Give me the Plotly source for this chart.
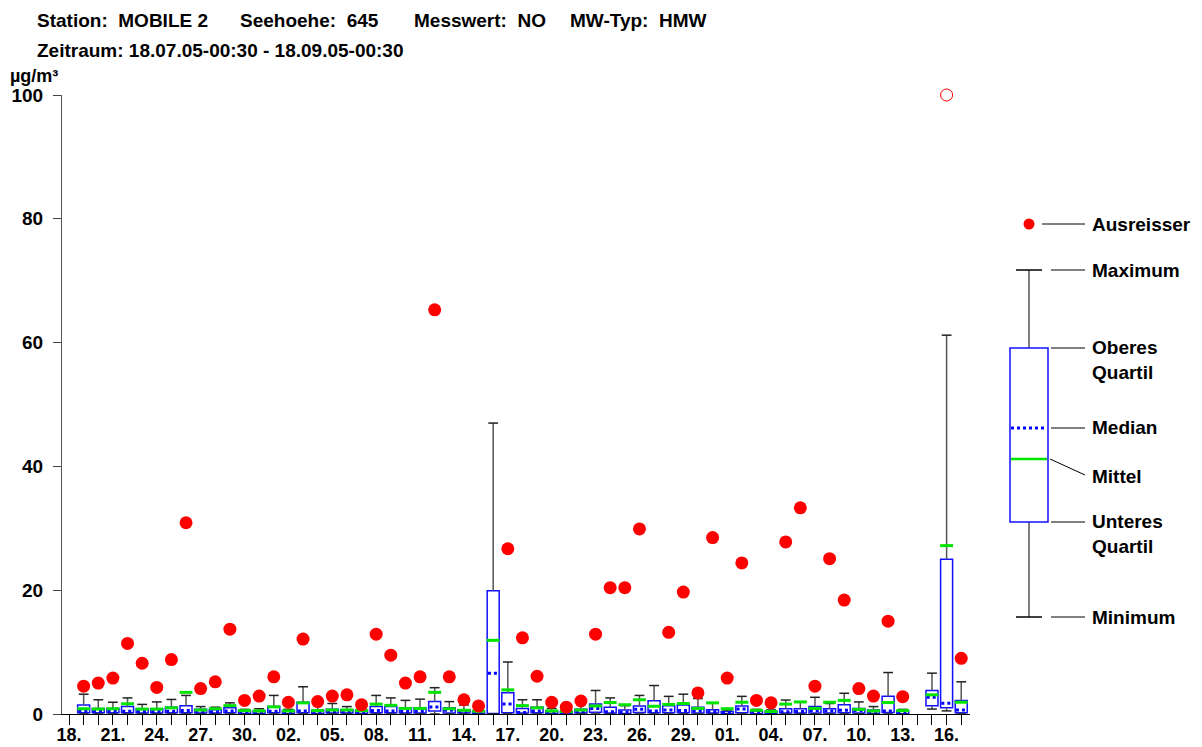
import plotly.graph_objects as go
import pandas as pd

# ---------------- data (µg/m³), one entry per day 18.07.05 ... 17.09.05 ----------------
days = pd.date_range("2005-07-18", "2005-09-17", freq="D")
day_labels = [d.strftime("%d.") for d in days]
N = None

q1 = [N, 0.2, 0.2, 0.2, 0.2, 0.15, 0.15, 0.2, 0.2, 0.15, 0.15, 0.2, 0.1, 0.1, 0.2, 0.1,
      0.2, 0.1, 0.15, 0.15, 0.1, 0.2, 0.2, 0.15, 0.15, 0.5, 0.15, 0.15, 0.1, 0.1, 0.2,
      0.15, 0.2, 0.1, 0.05, 0.15, 0.3, 0.15, 0.1, 0.25, 0.2, 0.2, 0.2, 0.15, 0.15, 0.05,
      0.2, 0.05, 0.05, 0.15, 0.15, 0.15, 0.15, 0.2, 0.15, 0.1, 0.25, 0.05, N, 1.35, 1.0, 0.2]
q3 = [N, 1.45, 0.9, 0.9, 1.2, 0.85, 0.85, 1.1, 1.35, 0.75, 0.7, 1.0, 0.55, 0.5, 1.2, 0.55,
      1.9, 0.6, 0.75, 0.7, 0.6, 1.2, 1.2, 1.0, 1.0, 2.0, 1.0, 0.7, 0.5, 19.9, 3.45,
      0.9, 1.1, 0.5, 0.4, 0.75, 1.6, 1.1, 0.65, 1.3, 2.15, 1.35, 1.45, 1.1, 0.7, 0.4,
      1.3, 0.5, 0.4, 0.85, 0.85, 1.2, 0.85, 1.5, 0.9, 0.65, 2.85, 0.5, N, 3.8, 25.0, 2.2]
median = [N, 0.5, 0.45, 0.45, 0.45, 0.4, 0.4, 0.45, 0.55, 0.35, 0.35, 0.5, 0.3, 0.3, 0.45, 0.3,
          0.5, 0.3, 0.4, 0.35, 0.3, 0.55, 0.5, 0.4, 0.45, 1.15, 0.6, 0.4, 0.3, 6.6, 1.6,
          0.25, 0.5, 0.3, 0.2, 0.4, 0.9, 0.35, 0.3, 0.75, 0.5, 0.65, 0.55, 0.5, 0.35, 0.2,
          0.8, 0.25, 0.2, 0.35, 0.4, 0.55, 0.5, 0.6, 0.55, 0.35, 0.5, 0.3, N, 2.7, 1.75, 0.65]
mean = [N, 0.85, 0.8, 0.85, 1.65, 0.8, 0.8, 1.0, 3.5, 0.65, 0.85, 1.35, 0.55, 0.5, 1.15, 0.5,
        1.8, 0.55, 0.65, 0.65, 0.55, 1.6, 1.4, 0.9, 0.9, 3.5, 0.85, 0.6, 0.45, 11.9, 3.9,
        1.35, 1.0, 0.5, 0.4, 0.65, 1.3, 1.85, 1.5, 2.3, 1.25, 1.55, 1.7, 0.9, 1.8, 0.85,
        1.9, 0.6, 0.4, 1.6, 1.95, 0.9, 1.9, 2.2, 0.75, 0.5, 1.85, 0.55, N, 3.1, 27.2, 1.9]
maximum = [N, 3.2, 2.3, 1.9, 2.6, 1.55, 1.95, 2.35, 3.0, 1.2, 1.1, 1.8, 0.75, 0.85, 3.0, 0.75,
           4.4, 1.6, 1.7, 1.2, 1.0, 3.0, 2.6, 2.2, 2.4, 4.25, 2.0, 1.45, 1.0, 47.0, 8.4,
           2.3, 2.3, 0.9, 0.8, 1.55, 3.8, 2.6, 1.35, 3.0, 4.6, 2.85, 3.2, 2.5, 1.8, 0.65,
           2.85, 0.75, 0.65, 2.25, 1.95, 2.7, 1.7, 3.35, 1.95, 1.2, 6.7, 0.75, N, 6.6, 61.2, 5.2]
minimum = [N, 0.0, 0.0, 0.0, 0.0, 0.0, 0.0, 0.0, 0.0, 0.0, 0.0, 0.0, 0.0, 0.0, 0.0, 0.0,
           0.0, 0.0, 0.0, 0.0, 0.0, 0.0, 0.0, 0.0, 0.0, 0.0, 0.0, 0.0, 0.0, 0.0, 0.0,
           0.0, 0.0, 0.0, 0.0, 0.0, 0.0, 0.0, 0.0, 0.0, 0.0, 0.0, 0.0, 0.0, 0.0, 0.0,
           0.0, 0.0, 0.0, 0.0, 0.0, 0.0, 0.0, 0.0, 0.0, 0.0, 0.0, 0.0, N, 0.8, 0.5, 0.0]
outlier = [N, 4.5, 5.0, 5.8, 11.4, 8.2, 4.3, 8.8, 30.9, 4.1, 5.2, 13.7, 2.2, 2.9, 6.0, 1.9,
           12.1, 2.0, 2.9, 3.1, 1.5, 12.9, 9.5, 5.0, 6.0, 65.3, 6.0, 2.3, 1.3, N, 26.7,
           12.3, 6.1, 1.9, 1.1, 2.1, 12.9, 20.4, 20.4, 29.9, N, 13.2, 19.7, 3.4, 28.5, 5.8,
           24.4, 2.2, 1.8, 27.8, 33.3, 4.5, 25.1, 18.4, 4.1, 2.9, 15.0, 2.8, N, N, N, 9.0]
offscale_outlier_days = ["16."]          # outlier above the scale (drawn open at top)
tick_labels = ["18.", "21.", "24.", "27.", "30.", "02.", "05.", "08.", "11.", "14.", "17.",
               "20.", "23.", "26.", "29.", "01.", "04.", "07.", "10.", "13.", "16."]
Y_MAX = 100
y_ticks = [0, 20, 40, 60, 80, 100]

# ---------------- styling ----------------
FONT = "Liberation Sans, Arial, sans-serif"
BLUE = "#1010ff"
GREEN = "#00e400"
RED = "#ff0000"
WHISK = "#555555"

n = len(days)
idx = list(range(n))
valid = [i for i in idx if q1[i] is not None]
HALF = 0.41

fig = go.Figure()

# boxes
fig.add_trace(go.Bar(
    x=valid, base=[q1[i] for i in valid], y=[q3[i] - q1[i] for i in valid],
    width=2 * HALF, marker=dict(color="white", line=dict(color=BLUE, width=1.5)),
    hoverinfo="skip"))

# whiskers
wx, wy = [], []
for i in valid:
    wx += [i, i, None, i, i, None]
    wy += [q3[i], maximum[i], None, minimum[i], q1[i], None]
fig.add_trace(go.Scatter(x=wx, y=wy, mode="lines", line=dict(color=WHISK, width=1.5),
                         hoverinfo="skip", cliponaxis=False))
fig.add_trace(go.Scatter(x=valid + valid, y=[maximum[i] for i in valid] + [minimum[i] for i in valid],
                         mode="markers", marker=dict(symbol="line-ew", size=7,
                                                     line=dict(color="#222222", width=1.5)),
                         hoverinfo="skip", cliponaxis=False))

# median (dotted blue)
mx, my = [], []
for i in valid:
    mx += [i - HALF + 0.05, i + HALF, None]
    my += [median[i], median[i], None]
fig.add_trace(go.Scatter(x=mx, y=my, mode="lines", line=dict(color="#0000ff", width=3, dash="dot"),
                         hoverinfo="skip"))

# mean (green)
ax_, ay_ = [], []
for i in valid:
    ax_ += [i - HALF - 0.03, i + HALF + 0.03, None]
    ay_ += [mean[i], mean[i], None]
fig.add_trace(go.Scatter(x=ax_, y=ay_, mode="lines", line=dict(color=GREEN, width=3),
                         hoverinfo="skip"))

# outliers
ox = [i for i in idx if outlier[i] is not None]
fig.add_trace(go.Scatter(x=ox, y=[outlier[i] for i in ox], mode="markers",
                         marker=dict(color=RED, size=13, line=dict(width=0)),
                         hoverinfo="skip", cliponaxis=False))
offx = [day_labels.index(d, 55) for d in offscale_outlier_days]
fig.add_trace(go.Scatter(x=offx, y=[Y_MAX] * len(offx), mode="markers",
                         marker=dict(symbol="circle-open", color=RED, size=12, line=dict(width=1)),
                         hoverinfo="skip", cliponaxis=False))

# ---------------- layout ----------------
L, R, T, B = 62, 232, 95, 33
W, H = 1202, 747
PW, PH = W - L - R, H - T - B


def px(x):
    return (x - L) / PW


def py(y):
    return (T + PH - y) / PH


ticktext = [lab if lab in tick_labels and i % 3 == 0 else "" for i, lab in enumerate(day_labels)]

fig.update_layout(
    width=W, height=H, margin=dict(l=L, r=R, t=T, b=B, pad=0),
    paper_bgcolor="white", plot_bgcolor="white", showlegend=False, barmode="overlay",
    font=dict(family=FONT, size=19, color="black", weight="bold"),
    xaxis=dict(range=[-0.48, 61.6], tickmode="array", tickvals=idx, ticktext=ticktext,
               ticks="outside", ticklen=10, tickwidth=1, tickcolor="black", automargin=False,
               showline=True, linecolor="black", linewidth=1, showgrid=False, zeroline=False,
               tickfont=dict(family=FONT, size=18, weight="bold"), tickangle=0,
               ticklabelstandoff=-6),
    yaxis=dict(range=[0, Y_MAX], tickmode="array", tickvals=y_ticks, automargin=False,
               ticks="outside", ticklen=8, tickwidth=1, tickcolor="#444444",
               showline=True, linecolor="#555555", linewidth=1, showgrid=False, zeroline=False,
               tickfont=dict(family=FONT, size=19, weight="bold"), ticklabelstandoff=6),
)

annos = []


def text(x, y, s, size=19, xanchor="left"):
    annos.append(dict(x=px(x), y=py(y), xref="paper", yref="paper", text=s, showarrow=False,
                      xanchor=xanchor, yanchor="middle", align="left",
                      font=dict(family=FONT, size=size, color="black", weight="bold")))


# header
text(35, 20, "Station:\u00a0 MOBILE 2")
text(238, 20, "Seehoehe:\u00a0 645")
text(412, 20, "Messwert:\u00a0 NO")
text(568, 20, "MW-Typ:\u00a0 HMW")
text(35, 50, "Zeitraum: 18.07.05-00:30 - 18.09.05-00:30")
text(8, 76, "µg/m³", size=18)

# explanatory key on the right
shapes = []


def line(x0, y0, x1, y1, color="black", width=1, dash=None):
    d = dict(type="line", xref="paper", yref="paper", x0=px(x0), y0=py(y0), x1=px(x1), y1=py(y1),
             line=dict(color=color, width=width))
    if dash:
        d["line"]["dash"] = dash
    shapes.append(d)


cx = 1029
shapes.append(dict(type="circle", xref="paper", yref="paper", x0=px(cx - 5.5), x1=px(cx + 5.5),
                   y0=py(224 + 5.5), y1=py(224 - 5.5), fillcolor=RED, line=dict(color=RED, width=0)))
line(1042, 224, 1085, 224)
line(cx, 270, cx, 348, WHISK, 1.5)
line(cx, 522, cx, 617, WHISK, 1.5)
line(1016, 270, 1042, 270, "black", 1.5)
line(1016, 617, 1042, 617, "black", 1.5)
shapes.append(dict(type="rect", xref="paper", yref="paper", x0=px(1010), x1=px(1048),
                   y0=py(522), y1=py(348), fillcolor="white", line=dict(color=BLUE, width=1.5)))
line(1011, 428, 1047, 428, "#0000ff", 3, "dot")
line(1011, 459, 1047, 459, GREEN, 2.5)
line(1051, 270, 1085, 270)
line(1051, 348, 1085, 348)
line(1051, 428, 1085, 428)
line(1050, 459, 1085, 475)
line(1051, 522, 1085, 522)
line(1051, 617, 1085, 617)

text(1090, 224, "Ausreisser")
text(1090, 270, "Maximum")
text(1090, 360, "Oberes<br>Quartil")
text(1090, 428, "Median")
text(1090, 476, "Mittel")
text(1090, 534, "Unteres<br>Quartil")
text(1090, 617, "Minimum")

fig.update_layout(annotations=annos, shapes=shapes)
fig.write_html("out.html")
